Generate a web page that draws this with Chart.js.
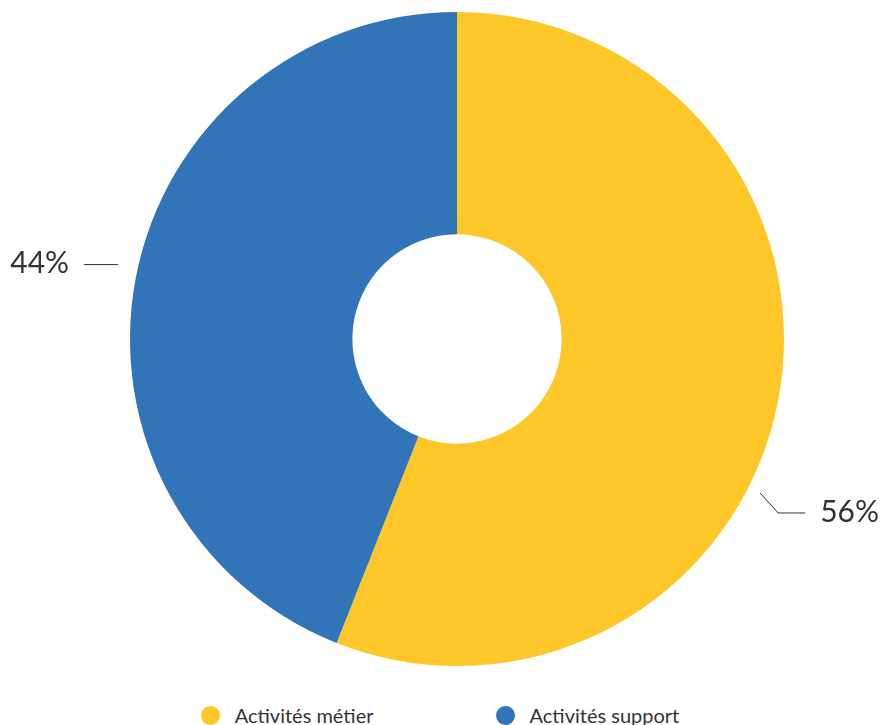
<!DOCTYPE html>
<html lang="fr">
<head>
<meta charset="utf-8">
<title>Répartition des activités</title>
<script src="https://cdn.jsdelivr.net/npm/chart.js@4.4.1/dist/chart.umd.min.js"></script>
<style>
  html, body { margin: 0; padding: 0; background: #fff; overflow: hidden; }
  .wrap { position: relative; width: 880px; height: 725px; }
  #pie { position: absolute; left: 0; top: 0; }
  .legend {
    position: absolute; left: 0; top: 705px; width: 880px;
    display: flex; justify-content: center; gap: 122px;
    font: 20px Lato, sans-serif; line-height: 20px; color: #333;
  }
  .legend span { display: flex; align-items: center; }
  .legend i { display: inline-block; width: 19px; height: 19px; border-radius: 50%; margin-right: 15px; }
</style>
</head>
<body>
<div class="wrap">
  <canvas id="pie" width="880" height="680"></canvas>
  <div class="legend" id="legend"></div>
</div>
<script>
const categories = ['Activités métier', 'Activités support'];
const shares = [56, 44];
const colors = ['#FDC72A', '#3174B8'];

// percent labels outside the ring, with a small leader line
const leaderLabels = {
  id: 'leaderLabels',
  afterDatasetsDraw(chart, args, opts) {
    const ctx = chart.ctx;
    const meta = chart.getDatasetMeta(0);
    const values = chart.data.datasets[0].data;
    const total = values.reduce((a, b) => a + b, 0);
    ctx.save();
    ctx.strokeStyle = '#333';
    ctx.lineWidth = 1;
    ctx.fillStyle = '#333';
    ctx.font = '30px Lato, sans-serif';
    ctx.textBaseline = 'middle';
    meta.data.forEach((arc, i) => {
      const p = opts.lines[i];
      const a = arc.startAngle + (arc.endAngle - arc.startAngle) * p.at;
      const r = arc.outerRadius + p.gap;
      const x0 = arc.x + Math.cos(a) * r;
      const y0 = arc.y + Math.sin(a) * r;
      const side = Math.cos(a) >= 0 ? 1 : -1;
      const x1 = x0 + side * p.bend[0];
      const y1 = y0 + p.bend[1];
      const x2 = x1 + side * p.run;
      ctx.beginPath();
      ctx.moveTo(x0, y0);
      ctx.lineTo(x1, y1);
      ctx.lineTo(x2, y1);
      ctx.stroke();
      ctx.textAlign = side > 0 ? 'left' : 'right';
      const pct = Math.round(values[i] / total * 100) + '%';
      ctx.fillText(pct, x2 + side * 15, y1 - 1);
    });
    ctx.restore();
  }
};

new Chart(document.getElementById('pie'), {
  type: 'doughnut',
  data: {
    labels: categories,
    datasets: [{
      data: shares,
      backgroundColor: colors,
      borderWidth: 0
    }]
  },
  options: {
    responsive: false,
    animation: false,
    cutout: '32%',
    layout: { padding: { top: 12, bottom: 14, left: 34, right: 0 } },
    plugins: {
      legend: { display: false },
      tooltip: { enabled: false },
      leaderLabels: {
        lines: [
          { at: 0.58, gap: 13, bend: [18, 20], run: 27 },
          { at: 0.51, gap: 20, bend: [0, 0], run: 34 }
        ]
      }
    }
  },
  plugins: [leaderLabels]
});

const legend = document.getElementById('legend');
categories.forEach((name, i) => {
  const item = document.createElement('span');
  const dot = document.createElement('i');
  dot.style.background = colors[i];
  item.appendChild(dot);
  item.appendChild(document.createTextNode(name));
  legend.appendChild(item);
});
</script>
</body>
</html>
